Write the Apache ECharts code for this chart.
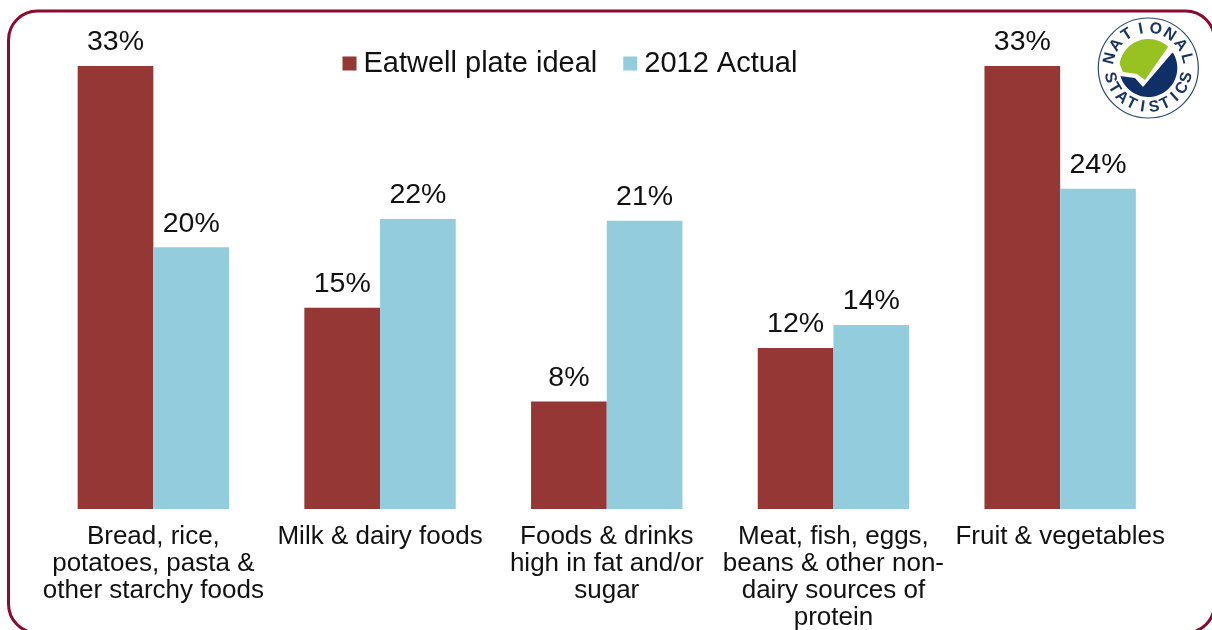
<!DOCTYPE html>
<html><head><meta charset="utf-8">
<style>html,body{margin:0;padding:0;background:#fff;overflow:hidden}#c{width:1212px;height:630px}</style>
<script src="https://cdn.jsdelivr.net/npm/echarts@6/dist/echarts.min.js"></script>
</head><body><div id="c"></div>
<script>
const categories = [
  'Bread, rice,\npotatoes, pasta &\nother starchy foods',
  'Milk & dairy foods',
  'Foods & drinks\nhigh in fat and/or\nsugar',
  'Meat, fish, eggs,\nbeans & other non-\ndairy sources of\nprotein',
  'Fruit & vegetables'
];
const eatwellIdeal = [33, 15, 8, 12, 33];
const actual2012 = [19.5, 21.6, 21.47, 13.7, 23.85];
const logoTop = 'NATIONAL';
const logoBottom = 'STATISTICS';

const FONT = '"Liberation Sans", Arial, sans-serif';
const FS = 28.5;
const chart = echarts.init(document.getElementById('c'), null, {renderer:'canvas'});
const cx = 1148.3, cy = 68, R = 29;
const letters = [];
[...logoTop].forEach((ch,i)=>{
  const a = (-76 + i*152/(logoTop.length-1))*Math.PI/180;
  letters.push({type:'text',x:cx+39.5*Math.sin(a),y:cy-39.5*Math.cos(a),rotation:-a,z:12,
    style:{text:ch,font:'bold 16px '+FONT,fill:'#1c3560',align:'center',verticalAlign:'middle'}});
});
[...logoBottom].forEach((ch,i)=>{
  const a = (76 - i*152/(logoBottom.length-1))*Math.PI/180;
  letters.push({type:'text',x:cx-39.5*Math.sin(a),y:cy+39.5*Math.cos(a),rotation:-a,z:12,
    style:{text:ch,font:'bold 16px '+FONT,fill:'#1c3560',align:'center',verticalAlign:'middle'}});
});
function arc(a0,a1){
  const pts=[];
  for(let k=0;k<=40;k++){const t=(a0+(a1-a0)*k/40)*Math.PI/180;pts.push([cx+R*Math.cos(t),cy+R*Math.sin(t)]);}
  return pts;
}
const greenPts=[[1123,72],[1137,74],[1145,80],[1168,47],...arc(-47,-172)];
const navyPts=[[1120,76],[1135,78],[1143,87],[1172,53],...arc(-32,165)];
chart.setOption({
  animation:false,
  backgroundColor:'#fff',
  textStyle:{fontFamily:FONT},
  legend:{
    left:337.5, top:44, itemWidth:14, itemHeight:14, itemGap:26, icon:'rect',
    textStyle:{fontFamily:FONT,fontSize:29,color:'#111',padding:[3,0,0,2]},
    data:['Eatwell plate ideal','2012 Actual']
  },
  grid:{left:40,top:66,width:1133.5,height:443,containLabel:false,outerBoundsMode:'none'},
  xAxis:{type:'category',data:categories,
    axisLine:{show:false},axisTick:{show:false},
    axisLabel:{interval:0,fontFamily:FONT,fontSize:26,color:'#111',lineHeight:27,margin:14,align:'center',verticalAlign:'top'}},
  yAxis:{type:'value',min:0,max:33,show:false,splitLine:{show:false}},
  series:[
    {name:'Eatwell plate ideal',type:'bar',data:eatwellIdeal,barWidth:75.7,barGap:'0%',
     itemStyle:{color:'#953735'},
     label:{show:true,position:'top',distance:9,formatter:p=>Math.round(p.value)+'%',fontFamily:FONT,fontSize:FS,color:'#111'}},
    {name:'2012 Actual',type:'bar',data:actual2012,barWidth:75.7,
     itemStyle:{color:'#93CDDD'},
     label:{show:true,position:'top',distance:9,formatter:p=>Math.round(p.value)+'%',fontFamily:FONT,fontSize:FS,color:'#111'}}
  ],
  graphic:[
    {type:'rect',shape:{x:8.5,y:11,width:1206,height:622,r:29},z:1,silent:true,
      style:{fill:'none',stroke:'#8a0a30',lineWidth:3}},
    {type:'circle',shape:{cx,cy,r:50},z:10,silent:true,style:{fill:'#fff',stroke:'#2b4a72',lineWidth:1.2}},
    {type:'polygon',z:11,silent:true,shape:{points:greenPts},style:{fill:'#97c221'}},
    {type:'polygon',z:11,silent:true,shape:{points:navyPts},style:{fill:'#0f2f66'}},
    ...letters
  ]
});
</script></body></html>
